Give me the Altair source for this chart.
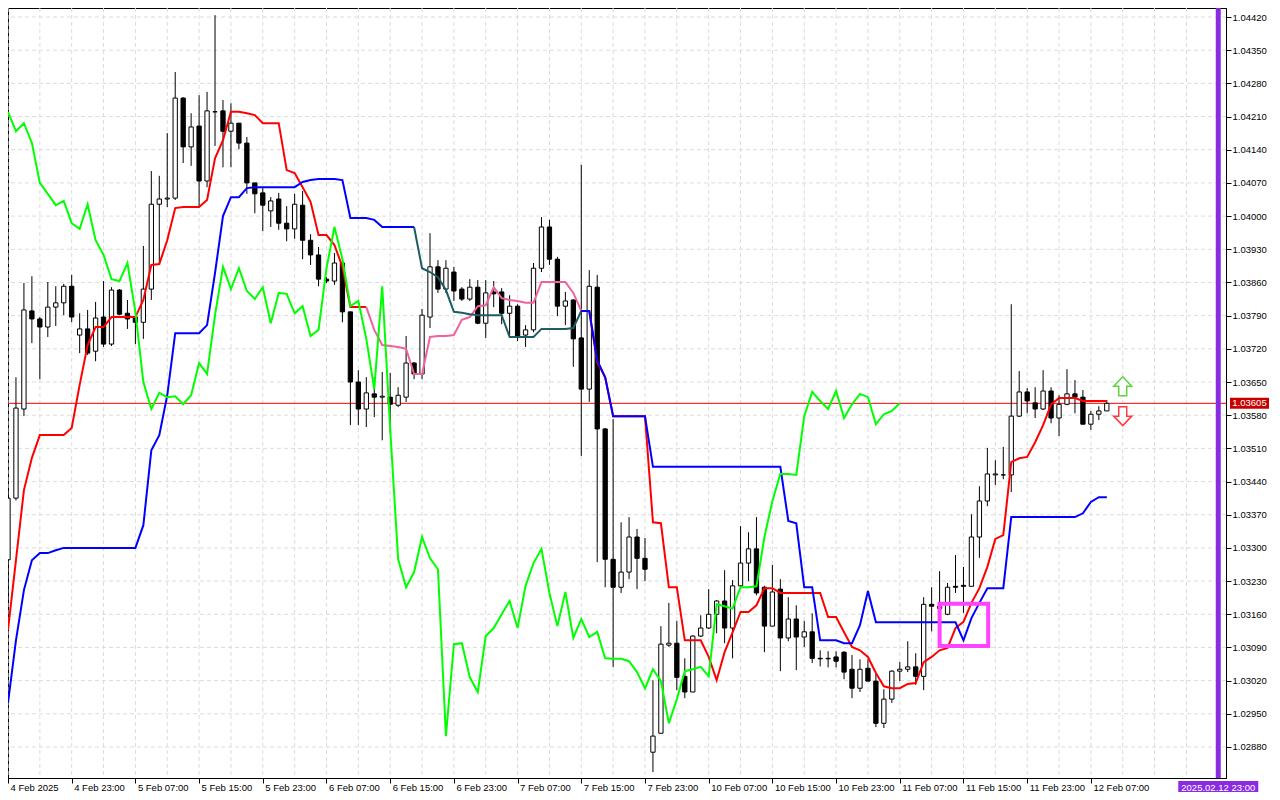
import json
import altair as alt
import pandas as pd

# ---------------- data ----------------
opens = [
    1.03275, 1.03405, 1.03593, 1.03800, 1.03783, 1.03766, 1.03808, 1.03817, 1.03852, 1.03749,
    1.03762, 1.03715, 1.03787, 1.03730, 1.03844, 1.03795, 1.03787, 1.03776, 1.03846, 1.04025,
    1.04036, 1.04038, 1.04249, 1.04146, 1.04190, 1.04074, 1.04220, 1.04222, 1.04179, 1.04196,
    1.04154, 1.04070, 1.04049, 1.04011, 1.04036, 1.03985, 1.03973, 1.04023, 1.03949, 1.03918,
    1.03867, 1.03863, 1.03901, 1.03798, 1.03650, 1.03593, 1.03625, 1.03618, 1.03618, 1.03601,
    1.03618, 1.03690, 1.03667, 1.03787, 1.03893, 1.03846, 1.03882, 1.03846, 1.03825, 1.03850,
    1.03774, 1.03840, 1.03840, 1.03795, 1.03810, 1.03749, 1.03760, 1.03890, 1.03977, 1.03909,
    1.03810, 1.03823, 1.03743, 1.03635, 1.03850, 1.03551, 1.03276, 1.03217, 1.03249, 1.03323,
    1.03278, 1.02869, 1.02909, 1.03095, 1.03099, 1.03029, 1.02996, 1.03114, 1.03131, 1.03160,
    1.03188, 1.03131, 1.03220, 1.03268, 1.03298, 1.03217, 1.03135, 1.03213, 1.03110, 1.03150,
    1.03112, 1.03123, 1.03067, 1.03067, 1.03070, 1.03080, 1.03044, 1.03004, 1.03046, 1.03019,
    1.02930, 1.02981, 1.03040, 1.03044, 1.03049, 1.03029, 1.03181, 1.03177, 1.03160, 1.03219,
    1.03221, 1.03219, 1.03323, 1.03399, 1.03454, 1.03454, 1.03454, 1.03578, 1.03629, 1.03606,
    1.03593, 1.03631, 1.03574, 1.03603, 1.03625, 1.03618, 1.03561, 1.03582, 1.03589,
]
highs = [
    1.03420, 1.03660, 1.03859, 1.03873, 1.03787, 1.03861, 1.03852, 1.03857, 1.03876, 1.03795,
    1.03802, 1.03819, 1.03863, 1.03850, 1.03846, 1.03823, 1.03795, 1.03937, 1.04095, 1.04085,
    1.04175, 1.04304, 1.04251, 1.04217, 1.04255, 1.04262, 1.04424, 1.04245, 1.04238, 1.04196,
    1.04167, 1.04070, 1.04061, 1.04040, 1.04049, 1.04021, 1.04047, 1.04053, 1.03962, 1.03935,
    1.03871, 1.03922, 1.03907, 1.03798, 1.03675, 1.03660, 1.03660, 1.03671, 1.03669, 1.03639,
    1.03747, 1.03692, 1.03804, 1.03964, 1.03907, 1.03907, 1.03893, 1.03850, 1.03867, 1.03865,
    1.03865, 1.03863, 1.03848, 1.03833, 1.03814, 1.03770, 1.03901, 1.03998, 1.03992, 1.03914,
    1.03840, 1.03825, 1.04108, 1.03886, 1.03876, 1.03553, 1.03572, 1.03354, 1.03365, 1.03340,
    1.03321, 1.03021, 1.03135, 1.03184, 1.03146, 1.03067, 1.03116, 1.03158, 1.03213, 1.03190,
    1.03253, 1.03232, 1.03346, 1.03333, 1.03365, 1.03220, 1.03264, 1.03234, 1.03196, 1.03179,
    1.03146, 1.03162, 1.03084, 1.03082, 1.03082, 1.03082, 1.03074, 1.03065, 1.03065, 1.03036,
    1.03002, 1.03042, 1.03059, 1.03103, 1.03078, 1.03196, 1.03217, 1.03251, 1.03226, 1.03285,
    1.03260, 1.03371, 1.03430, 1.03511, 1.03485, 1.03513, 1.03814, 1.03673, 1.03637, 1.03639,
    1.03675, 1.03639, 1.03622, 1.03677, 1.03654, 1.03633, 1.03589, 1.03599, 1.03612,
]
lows = [
    1.03190, 1.03400, 1.03578, 1.03732, 1.03656, 1.03745, 1.03768, 1.03791, 1.03776, 1.03711,
    1.03707, 1.03694, 1.03724, 1.03726, 1.03791, 1.03762, 1.03730, 1.03741, 1.03823, 1.03901,
    1.04019, 1.04034, 1.04112, 1.04106, 1.04019, 1.04061, 1.04148, 1.04103, 1.04103, 1.04141,
    1.04047, 1.04006, 1.03968, 1.03977, 1.03971, 1.03947, 1.03952, 1.03909, 1.03897, 1.03852,
    1.03859, 1.03855, 1.03776, 1.03559, 1.03559, 1.03555, 1.03576, 1.03527, 1.03542, 1.03597,
    1.03608, 1.03656, 1.03656, 1.03764, 1.03838, 1.03838, 1.03821, 1.03821, 1.03821, 1.03772,
    1.03743, 1.03808, 1.03772, 1.03749, 1.03736, 1.03724, 1.03755, 1.03882, 1.03897, 1.03789,
    1.03770, 1.03682, 1.03494, 1.03608, 1.03270, 1.03217, 1.03049, 1.03205, 1.03234, 1.03213,
    1.03230, 1.02827, 1.02909, 1.03091, 1.03000, 1.02983, 1.02996, 1.03112, 1.03129, 1.03120,
    1.03099, 1.03067, 1.03217, 1.03230, 1.03200, 1.03080, 1.03135, 1.03040, 1.03103, 1.03042,
    1.03091, 1.03057, 1.03050, 1.03048, 1.03048, 1.03023, 1.02983, 1.02996, 1.03019, 1.02922,
    1.02920, 1.02973, 1.03019, 1.03038, 1.03011, 1.03000, 1.03124, 1.03158, 1.03158, 1.03205,
    1.03163, 1.03219, 1.03279, 1.03388, 1.03433, 1.03445, 1.03418, 1.03576, 1.03584, 1.03574,
    1.03591, 1.03563, 1.03536, 1.03601, 1.03584, 1.03561, 1.03549, 1.03570, 1.03589,
]
closes = [
    1.03405, 1.03595, 1.03802, 1.03783, 1.03766, 1.03808, 1.03817, 1.03852, 1.03787, 1.03762,
    1.03711, 1.03785, 1.03730, 1.03844, 1.03793, 1.03783, 1.03776, 1.03846, 1.04025, 1.04036,
    1.04038, 1.04249, 1.04146, 1.04188, 1.04074, 1.04222, 1.04220, 1.04179, 1.04196, 1.04154,
    1.04070, 1.04047, 1.04023, 1.04032, 1.03985, 1.03973, 1.04025, 1.03949, 1.03918, 1.03867,
    1.03863, 1.03901, 1.03798, 1.03650, 1.03593, 1.03627, 1.03618, 1.03620, 1.03603, 1.03622,
    1.03690, 1.03667, 1.03791, 1.03893, 1.03846, 1.03890, 1.03842, 1.03825, 1.03850, 1.03774,
    1.03838, 1.03836, 1.03795, 1.03810, 1.03747, 1.03760, 1.03890, 1.03977, 1.03909, 1.03810,
    1.03821, 1.03741, 1.03635, 1.03852, 1.03551, 1.03276, 1.03217, 1.03249, 1.03323, 1.03278,
    1.03255, 1.02903, 1.03097, 1.03099, 1.03027, 1.02996, 1.03114, 1.03131, 1.03160, 1.03188,
    1.03131, 1.03220, 1.03268, 1.03298, 1.03205, 1.03135, 1.03207, 1.03110, 1.03150, 1.03112,
    1.03123, 1.03067, 1.03066, 1.03066, 1.03061, 1.03038, 1.03004, 1.03044, 1.03019, 1.02930,
    1.02981, 1.03040, 1.03044, 1.03049, 1.03029, 1.03181, 1.03177, 1.03172, 1.03217, 1.03217,
    1.03219, 1.03323, 1.03399, 1.03456, 1.03456, 1.03454, 1.03578, 1.03629, 1.03610, 1.03593,
    1.03631, 1.03574, 1.03603, 1.03625, 1.03618, 1.03561, 1.03582, 1.03589, 1.03605,
]
# red line (tenkan)
tenkan = [
    1.03127, 1.03274, 1.03422, 1.03490, 1.03538, 1.03538, 1.03538, 1.03538, 1.03553, 1.03644,
    1.03728, 1.03766, 1.03766, 1.03787, 1.03787, 1.03787, 1.03787, 1.03823, 1.03897, 1.03899,
    1.03949, 1.04017, 1.04019, 1.04019, 1.04019, 1.04034, 1.04122, 1.04160, 1.04220, 1.04220,
    1.04217, 1.04213, 1.04196, 1.04196, 1.04196, 1.04097, 1.04091, 1.04061, 1.04030, 1.03960,
    1.03960, 1.03939, 1.03893, 1.03808, 1.03808, 1.03808, 1.03760, 1.03728, 1.03726, 1.03724,
    1.03720, 1.03667, 1.03667, 1.03745, 1.03747, 1.03747, 1.03749, 1.03781, 1.03787, 1.03810,
    1.03812, 1.03850, 1.03827, 1.03823, 1.03821, 1.03817, 1.03817, 1.03861, 1.03861, 1.03861,
    1.03861, 1.03838, 1.03800, 1.03800, 1.03692, 1.03660, 1.03578, 1.03578, 1.03578, 1.03578,
    1.03578, 1.03354, 1.03352, 1.03217, 1.03217, 1.03105, 1.03105, 1.03105, 1.03070, 1.03021,
    1.03080, 1.03122, 1.03165, 1.03165, 1.03179, 1.03215, 1.03215, 1.03205, 1.03205, 1.03205,
    1.03205, 1.03205, 1.03205, 1.03154, 1.03154, 1.03122, 1.03091, 1.03084, 1.03070, 1.03036,
    1.03008, 1.03004, 1.03004, 1.03013, 1.03015, 1.03059, 1.03070, 1.03084, 1.03089, 1.03131,
    1.03144, 1.03184, 1.03215, 1.03260, 1.03319, 1.03327, 1.03481, 1.03489, 1.03492, 1.03523,
    1.03559, 1.03603, 1.03616, 1.03616, 1.03616, 1.03610, 1.03610, 1.03610, 1.03610,
]
# blue line (kijun)
kijun = [
    1.02973, 1.03105, 1.03211, 1.03274, 1.03289, 1.03289, 1.03295, 1.03300, 1.03300, 1.03300,
    1.03300, 1.03300, 1.03300, 1.03300, 1.03300, 1.03300, 1.03300, 1.03348, 1.03506, 1.03538,
    1.03622, 1.03753, 1.03753, 1.03753, 1.03753, 1.03770, 1.03880, 1.04000, 1.04040, 1.04040,
    1.04059, 1.04061, 1.04061, 1.04061, 1.04061, 1.04061, 1.04061, 1.04072, 1.04076, 1.04078,
    1.04078, 1.04078, 1.04076, 1.03996, 1.03996, 1.03996, 1.03992, 1.03977, 1.03977, 1.03977,
    1.03977, 1.03977, 1.03890, 1.03882, 1.03871, 1.03844, 1.03798, 1.03796, 1.03793, 1.03791,
    1.03791, 1.03791, 1.03791, 1.03745, 1.03745, 1.03745, 1.03745, 1.03762, 1.03762, 1.03762,
    1.03762, 1.03764, 1.03800, 1.03800, 1.03696, 1.03660, 1.03578, 1.03578, 1.03578, 1.03578,
    1.03578, 1.03471, 1.03471, 1.03471, 1.03471, 1.03471, 1.03471, 1.03471, 1.03471, 1.03471,
    1.03471, 1.03471, 1.03471, 1.03471, 1.03471, 1.03471, 1.03471, 1.03471, 1.03357, 1.03352,
    1.03217, 1.03217, 1.03105, 1.03105, 1.03105, 1.03099, 1.03099, 1.03137, 1.03209, 1.03143,
    1.03143, 1.03143, 1.03143, 1.03143, 1.03143, 1.03143, 1.03143, 1.03143, 1.03143, 1.03143,
    1.03105, 1.03152, 1.03184, 1.03215, 1.03215, 1.03215, 1.03365, 1.03365, 1.03365, 1.03365,
    1.03365, 1.03365, 1.03365, 1.03365, 1.03365, 1.03373, 1.03397, 1.03407, 1.03407,
]
chikou_shift = 26

tick_idx = [0, 8, 16, 24, 32, 40, 48, 56, 64, 72, 80, 88, 96, 104, 112, 120, 128, 136]
tick_lbl = ["4 Feb 2025", "4 Feb 23:00", "5 Feb 07:00", "5 Feb 15:00", "5 Feb 23:00",
            "6 Feb 07:00", "6 Feb 15:00", "6 Feb 23:00", "7 Feb 07:00", "7 Feb 15:00",
            "7 Feb 23:00", "10 Feb 07:00", "10 Feb 15:00", "10 Feb 23:00", "11 Feb 07:00",
            "11 Feb 15:00", "11 Feb 23:00", "12 Feb 07:00"]
price_ticks = [1.02880, 1.02950, 1.03020, 1.03090, 1.03160, 1.03230, 1.03300, 1.03370,
               1.03440, 1.03510, 1.03580, 1.03650, 1.03720, 1.03790, 1.03860, 1.03930,
               1.04000, 1.04070, 1.04140, 1.04210, 1.04280, 1.04350, 1.04420]
grid_idx = list(range(0, 153, 4))

last_price = 1.03605
vline_idx = 152
vline_label = "2025.02.12 23:00"
box_x = [117.0, 123.1]
box_y = [1.03093, 1.03182]
arrow_idx = 140
arrow_up_price = 1.03641
arrow_down_price = 1.03578

# ---------------- chart ----------------
W, H = 1218, 770
FONT = "Liberation Sans"
xs = alt.Scale(domain=[0, 152.97], nice=False, zero=False)
ys = alt.Scale(domain=[1.028146, 1.044390], nice=False, zero=False)

label_expr = "[" + ",".join(json.dumps(s) for s in tick_lbl) + "][round(datum.value / 8)]"
x_axis = alt.Axis(values=tick_idx, labelExpr=label_expr, labelAlign="left", labelBaseline="top",
                  labelPadding=-1, labelOffset=2, tickSize=5, tickColor="black", domainColor="black",
                  labelColor="black", labelFont=FONT, labelFontSize=9.5, grid=False,
                  labelOverlap=False, labelFlush=False, title=None)
y_axis = alt.Axis(orient="right", values=price_ticks, format=".5f", tickSize=5, labelPadding=1,
                  labelAlign="left", labelBaseline="middle", tickColor="black", domainColor="black",
                  labelColor="black", labelFont=FONT, labelFontSize=9.5, grid=False,
                  labelOverlap=False, labelFlush=False, title=None)


def X(f):
    return alt.X(f, type="quantitative", scale=xs, axis=x_axis)


def Y(f):
    return alt.Y(f, type="quantitative", scale=ys, axis=y_axis)


candles = pd.DataFrame({"i": list(range(len(opens))), "open": opens, "high": highs,
                        "low": lows, "close": closes})

GRID = dict(color="#dcdcdc", strokeDash=[4, 3], strokeWidth=1)
grid_v = alt.Chart(pd.DataFrame({"g": grid_idx})).mark_rule(**GRID).encode(x=X("g"))
grid_h = alt.Chart(pd.DataFrame({"p": price_ticks})).mark_rule(**GRID).encode(y=Y("p"))
price_line = alt.Chart(pd.DataFrame({"p": [last_price]})).mark_rule(
    color="#FF0000", strokeWidth=1).encode(y=Y("p"))

wicks = alt.Chart(candles).mark_rule(color="black", strokeWidth=1, clip=True).encode(
    x=X("i"), y=Y("low"), y2="high")
bodies = alt.Chart(candles).transform_calculate(
    xl="datum.i - 0.27", xr="datum.i + 0.27"
).mark_rect(stroke="black", strokeWidth=1, clip=True).encode(
    x=X("xl"), x2="xr", y=Y("open"), y2="close",
    fill=alt.condition("datum.close >= datum.open", alt.value("white"), alt.value("black")))


def segments(values, cuts, colors):
    layers = []
    for (a, b), col in zip(cuts, colors):
        seg = pd.DataFrame({"i": list(range(a, b + 1)), "v": values[a:b + 1]})
        layers.append(alt.Chart(seg).mark_line(color=col, strokeWidth=2, clip=True).encode(
            x=X("i"), y=Y("v")))
    return layers


n = len(opens)
red_layers = segments(tenkan, [(0, 45), (45, 72), (72, n - 1)], ["#FF0000", "#F0629E", "#FF0000"])
blue_layers = segments(kijun, [(0, 51), (51, 72), (72, n - 1)], ["#0000FF", "#1D5C63", "#0000FF"])

green = alt.Chart(candles).transform_calculate(gx=f"datum.i - {chikou_shift}").transform_filter(
    "datum.gx >= 0").mark_line(color="#00FF00", strokeWidth=2, clip=True).encode(
    x=X("gx"), y=Y("close"))

box = alt.Chart(pd.DataFrame({"x1": [box_x[0]], "x2": [box_x[1]], "y1": [box_y[0]],
                              "y2": [box_y[1]]})).mark_rect(
    fillOpacity=0, stroke="#FF44FF", strokeWidth=4).encode(x=X("x1"), x2="x2", y=Y("y1"), y2="y2")

UP = "M0,-1L0.95,0L0.42,0L0.42,1L-0.42,1L-0.42,0L-0.95,0Z"
DOWN = "M0,1L0.95,0L0.42,0L0.42,-1L-0.42,-1L-0.42,0L-0.95,0Z"
arrow_up = alt.Chart(pd.DataFrame({"i": [arrow_idx], "p": [arrow_up_price]})).mark_point(
    shape=UP, size=361, filled=True, fill="white", stroke="#5CD43C", strokeWidth=1.5,
    opacity=1).encode(x=X("i"), y=Y("p"))
arrow_down = alt.Chart(pd.DataFrame({"i": [arrow_idx], "p": [arrow_down_price]})).mark_point(
    shape=DOWN, size=361, filled=True, fill="white", stroke="#FF3B3B", strokeWidth=1.5,
    opacity=1).encode(x=X("i"), y=Y("p"))

vline = alt.Chart(pd.DataFrame({"i": [vline_idx]})).mark_rule(
    color="#8A2BE2", strokeWidth=5).encode(x=X("i"))

PRICE_BOX = "M-1,-0.28L1,-0.28L1,0.28L-1,0.28Z"
pdf = pd.DataFrame({"p": [last_price]})
price_box = alt.Chart(pdf).mark_point(
    shape=PRICE_BOX, size=1521, filled=True, fill="#C80000", strokeWidth=0, opacity=1,
    clip=False).encode(x=alt.value(W + 23.5), y=Y("p"))
price_txt = alt.Chart(pdf).mark_text(
    color="white", font=FONT, fontSize=9.5, align="center", baseline="middle",
    clip=False).encode(x=alt.value(W + 23.5), y=Y("p"), text=alt.Text("p:Q", format=".5f"))

DATE_BOX = "M-1,-0.175L1,-0.175L1,0.175L-1,0.175Z"
ddf = pd.DataFrame({"i": [vline_idx], "t": [vline_label]})
date_box = alt.Chart(ddf).mark_point(
    shape=DATE_BOX, size=6400, filled=True, fill="#8A2BE2", strokeWidth=0, opacity=1,
    clip=False).encode(x=X("i"), y=alt.value(H + 10))
date_txt = alt.Chart(ddf).mark_text(
    color="white", font=FONT, fontSize=9.5, align="center", baseline="middle",
    clip=False).encode(x=X("i"), y=alt.value(H + 10), text="t:N")

chart = alt.layer(
    grid_v, grid_h, price_line, wicks, bodies, *red_layers, *blue_layers, green,
    box, arrow_up, arrow_down, vline, price_box, price_txt, date_box, date_txt,
).properties(
    width=W, height=H,
    padding={"left": 0, "top": 0, "right": 46, "bottom": 14},
    autosize=alt.AutoSizeParams(type="none"),
    background="white",
).configure_view(stroke="black", strokeWidth=1)

chart.save("out.html", embed_options={"renderer": "svg", "actions": False})
